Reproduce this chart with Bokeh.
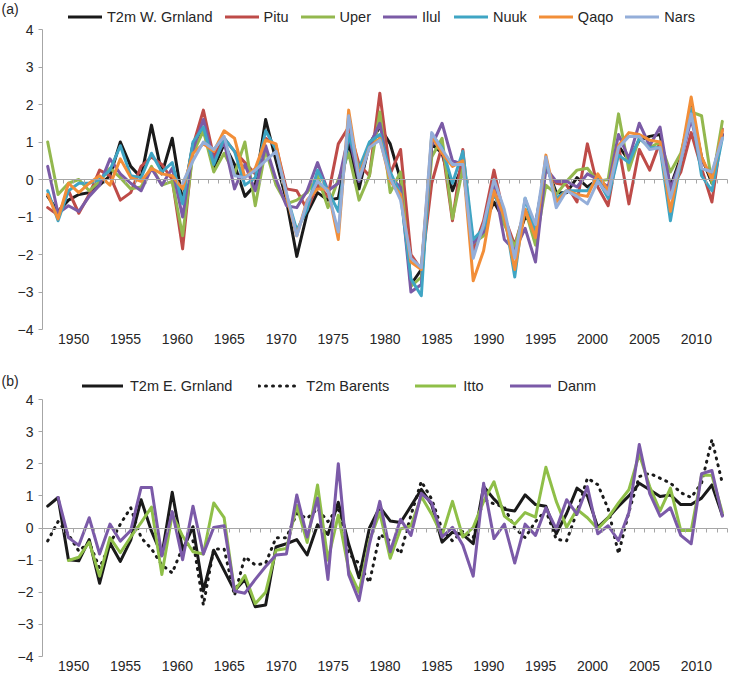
from bokeh.plotting import figure
from bokeh.models import (Range1d, FixedTicker, LinearAxis, Legend, LegendItem,
                          Label, CustomJSTickFormatter)
from bokeh.layouts import column
from bokeh.embed import file_html
from bokeh.resources import INLINE

NaN = float("nan")

years = list(range(1948, 2014))
y_ticks = [-4, -3, -2, -1, 0, 1, 2, 3, 4]

# ---- panel (a) : West Greenland ----
t2m_w_grnland = [-0.45, -0.85, -0.55, -0.4, -0.35, -0.15, 0.1, 1.0, 0.35, 0.05,
                 1.45, 0.15, 1.1, -0.6, 0.95, 1.35, 0.3, 0.95, 0.4, -0.45,
                 -0.15, 1.6, 0.5, -0.55, -2.05, -0.9, -0.35, -0.55, -0.5, 1.0,
                 -0.25, 0.95, 1.4, 0.95, 0.0, -2.8, -2.4, 0.95, 0.7, -0.3,
                 0.4, -1.9, -1.2, -0.6, -1.1, -1.8, -1.0, -1.2, 0.4, -0.35,
                 -0.35, 0.05, -0.2, 0.0, -0.3, 0.9, 0.5, 1.05, 1.15, 1.2,
                 -0.2, 0.6, 1.95, 0.6, -0.1, 1.2]
pitu = [-0.75, -0.95, -0.3, -0.9, -0.4, 0.25, 0.1, -0.55, -0.35, 0.35,
        0.6, 0.4, 0.0, -1.85, 0.9, 1.85, 0.6, 1.1, 0.75, 0.45,
        0.15, 1.1, 0.9, -0.25, -0.3, -0.8, -0.15, -0.45, 0.95, 1.4,
        0.4, 0.1, 2.3, 0.15, 0.8, -2.0, -2.4, -0.1, 0.9, -1.1,
        0.8, -1.9, -1.1, 0.25, -1.0, -1.75, -0.8, -1.4, 0.3, -0.1,
        -0.15, -0.6, 0.95, -0.2, -0.7, 0.9, -0.65, 0.8, 0.25, 1.0,
        -0.3, 0.2, 1.25, 0.3, -0.6, 1.35]
uper = [1.0, -0.4, -0.1, 0.0, -0.3, -0.05, 0.3, 0.05, -0.25, -0.2,
        0.35, -0.15, -0.05, -1.5, 0.7, 1.3, 0.2, 0.7, 0.15, 1.0,
        -0.7, 0.8, -0.15, -0.65, -0.55, -0.35, 0.1, -0.75, 0.0, 0.7,
        -0.55, 0.1, 1.8, -0.35, 0.2, -2.85, -2.6, 0.6, 1.1, -1.05,
        0.3, -1.7, -1.5, -0.3, -1.2, -1.8, -0.8, -1.75, -0.15, -0.4,
        -0.05, 0.25, 0.3, -0.05, 0.0, 1.75, 0.25, 1.1, 0.85, 1.0,
        0.2, 0.7, 1.8, 1.7, -0.1, 1.55]
ilul = [0.35, -0.9, -0.7, -0.85, -0.45, -0.15, 0.55, 0.15, -0.1, -0.3,
        0.3, -0.15, 0.3, -1.0, 0.8, 1.6, 0.5, 1.0, -0.25, 0.4,
        -0.3, 0.9, 0.0, -0.7, -0.75, -0.3, 0.45, -0.3, -0.1, 1.2,
        -0.05, 0.9, 1.5, 0.05, -0.2, -3.0, -2.8, 0.9, 1.5, 0.5,
        0.4, -1.7, -1.4, -0.1, -1.6, -1.9, -1.3, -2.2, 0.3, -0.05,
        -0.05, -0.2, 0.15, 0.0, -0.2, 1.2, 0.55, 1.5, 0.9, 1.4,
        -0.25, 0.5, 1.6, 0.5, 0.1, 1.2]
nuuk = [-0.3, -1.1, -0.3, -0.1, -0.1, 0.0, 0.25, 0.9, 0.1, 0.05,
        0.7, 0.2, 0.45, -0.65, 1.0, 1.4, 0.4, 1.1, 0.75, -0.15,
        0.05, 1.3, 0.8, -0.4, -1.35, -0.8, 0.25, -0.3, -0.85, 1.2,
        0.3, 1.0, 1.2, 0.2, -0.4, -2.65, -3.1, 1.2, 0.85, -0.1,
        0.75, -1.6, -1.3, -0.4, -0.9, -2.6, -0.5, -1.4, 0.5, -0.5,
        -0.3, -0.3, -0.3, 0.0, -0.5, 0.65, 0.45, 1.1, 0.85, 0.85,
        -1.1, 0.5, 1.9, 0.1, -0.3, 1.1]
qaqo = [-0.4, -1.05, -0.1, -0.35, -0.1, 0.1, -0.15, 0.55, 0.05, -0.05,
        0.3, 0.15, 0.1, -0.25, 0.7, 0.95, 0.75, 1.3, 1.1, 0.05,
        0.3, 1.05, 0.95, -0.45, -1.5, -0.55, -0.25, -0.25, -1.6, 1.85,
        0.1, 0.85, 1.1, -0.05, -0.4, -2.2, -2.4, 1.15, 0.7, 0.35,
        0.5, -2.7, -1.9, -0.3, -1.0, -2.4, -0.8, -1.55, 0.65, -0.6,
        -0.3, -0.4, -0.45, 0.15, -0.3, 0.9, 1.25, 1.2, 1.05, 1.0,
        -0.85, 0.6, 2.2, 0.6, 0.0, 1.3]
nars = [NaN] * 13 + [-0.1, 0.5, 1.0, 0.8, 1.15, 0.1, 0.05,
                     0.25, 0.5, 0.75, -0.35, -1.5, -0.6, -0.05, -0.3, -1.4, 1.7,
                     0.0, 0.85, 1.05, 0.05, -0.55, -2.1, -2.35, 1.25, 0.8, 0.4,
                     0.4, -2.1, -1.2, 0.0, -0.8, -2.1, -0.5, -1.2, 0.6, -0.75,
                     -0.3, -0.45, -0.65, -0.05, -0.4, 0.85, 1.15, 1.15, 0.8, 0.85,
                     -0.5, 0.5, 1.75, 0.3, 0.2, 1.1]

# ---- panel (b) : East Greenland / Barents ----
t2m_e_grnland = [0.68, 0.95, -0.99, -1.02, -0.36, -1.72, -0.47, -1.04, -0.38, 0.88,
                 -0.1, -0.85, 1.11, -0.69, 0.04, -1.96, -0.69, -1.32, -1.95, -1.6,
                 -2.45, -2.4, -0.59, -0.49, -0.36, -0.84, 0.1, -0.2, 0.8, -0.5,
                 -1.55, 0.0, 0.65, 0.22, 0.17, 0.68, 1.2, 0.73, -0.44, -0.13,
                 -0.2, -0.49, 1.29, 0.9, 0.58, 0.53, 1.03, 0.73, 0.68, -0.18,
                 0.45, 1.24, 1.0, 0.02, 0.32, 0.68, 1.0, 1.39, 1.19, 0.98,
                 1.03, 0.73, 0.73, 0.93, 1.34, 0.4]
t2m_barents = [-0.4, 0.2, -0.2, -0.72, -0.44, -1.25, -0.49, 0.12, 0.63, -0.3,
               -0.65, -1.15, -1.4, -0.6, -0.4, -2.4, -0.65, -0.65, -2.1, -0.9,
               -1.15, -1.1, -0.3, -0.3, 0.45, 0.3, 0.6, 0.2, 0.65, -0.8,
               -1.1, -1.7, -0.2, -0.4, -0.8, 0.4, 1.45, 0.9, -0.05, -0.4,
               -0.1, -0.3, 0.9, 0.75, 0.65, 0.0, -0.3, 0.2, 0.55, -0.35,
               -0.4, 0.5, 1.55, 1.35, 0.6, -0.8, 0.5, 1.6, 1.7, 1.55,
               1.4, 1.1, 0.95, 1.4, 2.75, 1.4]
itto = [NaN, NaN, -1.01, -0.91, -0.44, -1.5, -0.3, -0.77, -0.28, 0.17,
        0.65, -1.45, 0.43, -0.25, -0.74, -0.81, 0.78, 0.32, -1.96, -1.48,
        -2.36, -2.0, -0.69, -0.64, 0.7, -0.45, 1.34, -1.0, 0.4, -1.3,
        -2.0, -0.39, 0.48, -0.94, -0.03, 0.07, 0.98, 0.43, -0.23, 0.83,
        -0.28, 0.02, 0.83, 1.44, 0.37, 0.12, 0.48, 0.34, 1.89, 0.83,
        0.02, 0.58, 0.32, -0.03, 0.32, 0.78, 1.19, 2.3, 1.29, 0.53,
        1.24, -0.08, -0.08, 1.64, 1.64, 0.48]
danm = [NaN, 0.95, -0.3, -0.54, 0.32, -0.81, 0.12, -0.41, -0.08, 1.26,
        1.26, -0.87, 0.51, -0.99, 0.68, -0.81, 0.02, 0.07, -1.96, -2.03,
        -1.6, -1.2, -0.84, -0.81, 1.03, -0.28, 0.93, -1.6, 2.0, -1.45,
        -2.26, -0.5, 0.83, -0.74, 0.27, -0.23, 1.08, 0.78, -0.28, 0.02,
        -0.54, -1.5, 1.39, -0.33, 0.12, -1.09, 0.12, -0.23, 0.63, -0.03,
        0.88, 0.43, 1.29, -0.18, 0.07, -0.39, 0.48, 2.6, 1.08, 0.37,
        0.63, -0.23, -0.49, 1.69, 1.79, 0.37]

FONT = "Liberation Sans"
TEXT = "#262626"
AXIS = "#a6a6a6"

FW = 728          # canvas / frame width
PX_LEFT = 42      # px from canvas left to the vertical axis
PX_RIGHT = 1
px_per_year = (FW - PX_LEFT - PX_RIGHT) / len(years)
x_lo = years[0] - 0.5
x_hi = years[-1] + 0.5
x_start = x_lo - PX_LEFT / px_per_year
x_end = x_hi + PX_RIGHT / px_per_year

boundaries = [x_lo] + [y + 0.5 for y in years]
label_pos = [y + 0.5 for y in years if y % 5 == 0]


def make_panel(height, top_px, bot_px, tag, tag_top, series, leg_x, leg_top,
               glyph_w, standoff, spacing):
    # top_px / bot_px: canvas rows of the values 4 and -4
    scale = (bot_px - top_px) / 8.0
    y_end = 4 + top_px / scale
    y_start = -4 - (height - bot_px) / scale
    p = figure(width=FW, frame_width=FW, frame_height=height,
               x_range=Range1d(x_start, x_end), y_range=Range1d(y_start, y_end),
               output_backend="svg", toolbar_location=None,
               x_axis_location=None, y_axis_location=None, title_location=None,
               min_border_left=0, min_border_right=0,
               min_border_top=0, min_border_bottom=0)
    p.outline_line_color = None
    p.background_fill_color = "white"
    p.border_fill_color = "white"
    p.grid.visible = False

    yaxis = LinearAxis(fixed_location=x_lo, bounds=(-4, 4),
                       ticker=FixedTicker(ticks=y_ticks),
                       formatter=CustomJSTickFormatter(
                           code="return tick < 0 ? '\\u2212' + (-tick) : String(tick);"),
                       axis_line_color=AXIS, major_tick_line_color=AXIS,
                       major_tick_in=0, major_tick_out=4,
                       minor_tick_line_color=None, major_label_standoff=5,
                       major_label_text_font=FONT,
                       major_label_text_font_size="14px",
                       major_label_text_color=TEXT)
    p.add_layout(yaxis, "left")

    zero_axis = LinearAxis(fixed_location=0, bounds=(x_lo, x_hi),
                           ticker=FixedTicker(ticks=boundaries),
                           formatter=CustomJSTickFormatter(code="return '';"),
                           axis_line_color=AXIS, major_tick_line_color=AXIS,
                           major_tick_in=0, major_tick_out=4,
                           minor_tick_line_color=None, major_label_standoff=0)
    p.add_layout(zero_axis, "below")

    label_axis = LinearAxis(fixed_location=-4,
                            ticker=FixedTicker(ticks=label_pos),
                            formatter=CustomJSTickFormatter(
                                code="return Math.floor(tick).toString();"),
                            axis_line_color=None, major_tick_line_color=None,
                            minor_tick_line_color=None, major_label_standoff=-2,
                            major_label_text_font=FONT,
                            major_label_text_font_size="14px",
                            major_label_text_color=TEXT)
    p.add_layout(label_axis, "below")

    items = []
    for name, vals, color, dash in series:
        r = p.line(years, vals, line_color=color, line_width=3,
                   line_dash=dash, line_join="round", line_cap="round")
        items.append(LegendItem(label=name, renderers=[r]))

    leg_h = 17
    legend = Legend(items=items, orientation="horizontal",
                    location=(leg_x, height - leg_top - leg_h),
                    border_line_color=None, background_fill_alpha=0,
                    padding=0, margin=0, spacing=spacing,
                    glyph_width=glyph_w, glyph_height=leg_h, label_height=leg_h,
                    label_standoff=standoff,
                    label_text_font=FONT, label_text_font_size="14.5px",
                    label_text_color=TEXT)
    p.add_layout(legend, "center")

    p.add_layout(Label(x=1, y=height - tag_top, x_units="screen", y_units="screen",
                       text=tag, text_baseline="top", text_align="left",
                       text_font=FONT, text_font_size="14px", text_color=TEXT))
    return p


series_a = [
    ("T2m W. Grnland", t2m_w_grnland, "#1a1a1a", "solid"),
    ("Pitu", pitu, "#be4b48", "solid"),
    ("Uper", uper, "#93b84e", "solid"),
    ("Ilul", ilul, "#7b5ba6", "solid"),
    ("Nuuk", nuuk, "#3fa5c4", "solid"),
    ("Qaqo", qaqo, "#f28e38", "solid"),
    ("Nars", nars, "#94aed9", "solid"),
]
series_b = [
    ("T2m E. Grnland", t2m_e_grnland, "#1a1a1a", "solid"),
    ("T2m Barents", t2m_barents, "#1a1a1a", "1 6"),
    ("Itto", itto, "#8fbf48", "solid"),
    ("Danm", danm, "#7b5aa8", "solid"),
]

pa = make_panel(348, 29, 329, "(a)", 0, series_a, 68, 8, 34, 5, 12)
pb = make_panel(328, 51, 308, "(b)", 24, series_b, 82, 29, 41, 7, 26)

layout = column(pa, pb, spacing=0)
open("out.html", "w").write(file_html(layout, INLINE))
